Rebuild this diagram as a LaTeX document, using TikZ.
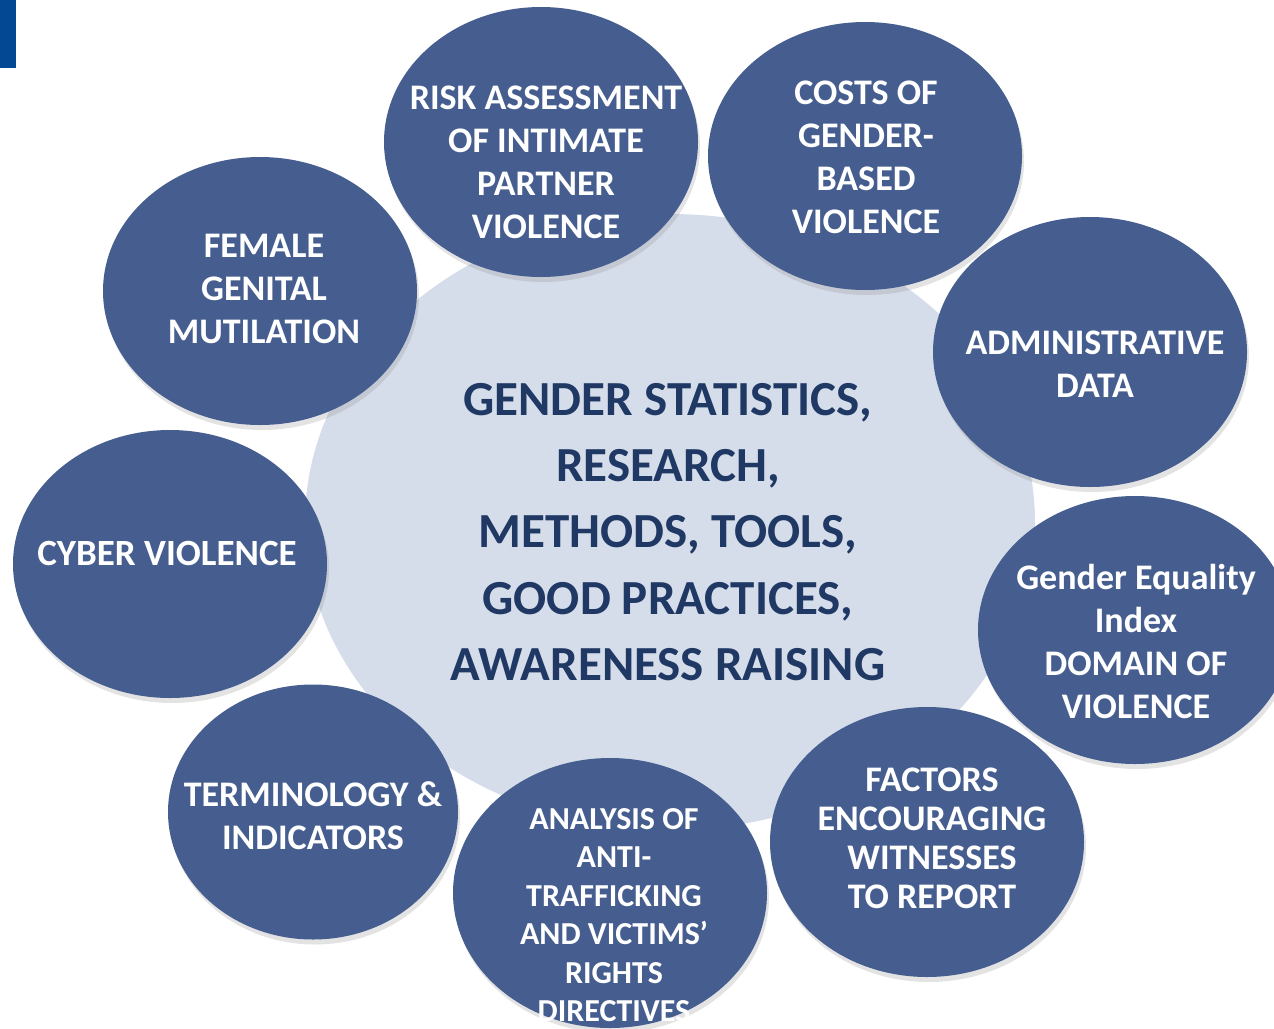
\documentclass[tikz,border=0pt]{standalone}
\usepackage{fontspec}
\setmainfont{Carlito}
\usetikzlibrary{shapes.geometric,shadows}

\definecolor{bubbleblue}{RGB}{70,94,143}
\definecolor{corelight}{RGB}{214,221,234}
\definecolor{corenavy}{RGB}{31,56,100}
\definecolor{barblue}{RGB}{2,72,146}

\tikzset{
  bubble/.style={ellipse,fill=bubbleblue,inner sep=0pt,
    drop shadow={opacity=.22,shadow xshift=2pt,shadow yshift=-5pt}},
  bubbletext/.style={text=white,align=center,font=\bfseries\fontsize{36}{43}\selectfont},
}

\begin{document}
\begin{tikzpicture}[x=1pt,y=-1pt]
\clip (0,0) rectangle (1274,1028);
\fill[barblue] (0,0) rectangle (16,68);

% the big one in the middle
\node (core) at (670,522) [ellipse,fill=corelight,minimum width=730pt,minimum height=616pt,inner sep=0pt] {};
\node (coretext) at (668,532) [text=corenavy,align=center,font=\bfseries\fontsize{49}{66.3}\selectfont]
  {GENDER STATISTICS,\\RESEARCH,\\METHODS, TOOLS,\\GOOD PRACTICES,\\AWARENESS RAISING};

% bubbles round it
\foreach \name/\x/\y/\w/\h in {risk/541/142/314/270, costs/865/156/314/268,
    female/260/291/314/268, admin/1090/352/314/270, cyber/170/564/314/268,
    gei/1135/630/314/268, terms/313/812/290/255, factors/927/842/314/270,
    analysis/610/893/314/270} {
  \node (\name) at (\x,\y) [bubble,minimum width=\w pt,minimum height=\h pt] {};
}

\node (risk-t) at (546,162) [bubbletext] {RISK ASSESSMENT\\OF INTIMATE\\PARTNER\\VIOLENCE};
\node (costs-t) at (866,157) [bubbletext] {COSTS OF\\GENDER-\\BASED\\VIOLENCE};
\node (female-t) at (264,289) [bubbletext] {FEMALE\\GENITAL\\MUTILATION};
\node (admin-t) at (1095,364) [bubbletext] {ADMINISTRATIVE\\DATA};
\node (cyber-t) at (167,553) [bubbletext,font=\bfseries\fontsize{37}{43}\selectfont] {CYBER VIOLENCE};
\node (gei-t) at (1136,641) [bubbletext] {Gender Equality\\Index\\DOMAIN OF\\VIOLENCE};
\node (terms-t) at (313,816) [bubbletext] {TERMINOLOGY \&\\INDICATORS};
\node (factors-t) at (932,838) [bubbletext,font=\bfseries\fontsize{36}{39}\selectfont]
  {FACTORS\\ENCOURAGING\\WITNESSES\\TO REPORT};
\node (analysis-t) at (614,915) [bubbletext,font=\bfseries\fontsize{32}{38.5}\selectfont]
  {ANALYSIS OF\\ANTI-\\TRAFFICKING\\AND VICTIMS’\\RIGHTS\\DIRECTIVES};
\end{tikzpicture}
\end{document}
